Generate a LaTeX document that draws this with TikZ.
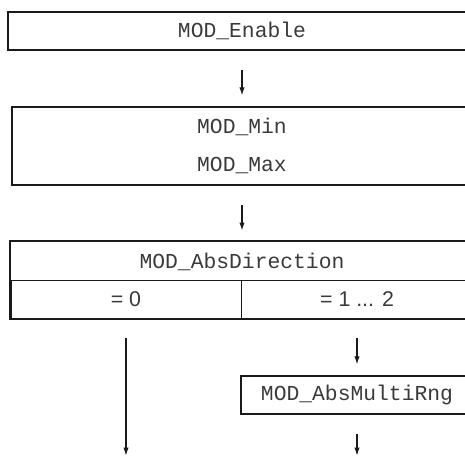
\documentclass[tikz,border=0pt]{standalone}
\usepackage{fontspec}
\setmainfont{Liberation Sans}
\setmonofont{Liberation Mono}
\usepackage{tikz}
\usetikzlibrary{arrows.meta,calc,positioning}
\definecolor{DiagLine}{HTML}{1A1A1A}
\definecolor{DiagText}{HTML}{3A3A3A}

\begin{document}
\begin{tikzpicture}[
    x=0.75pt,y=-0.75pt,
    parbox/.style={draw=DiagLine,line width=1.5pt,minimum height=28.5pt,inner sep=0pt,align=center,text=DiagText,font=\fontsize{16}{28}\selectfont\ttfamily},
    cellbox/.style={draw=DiagLine,line width=0.75pt,minimum height=28pt,inner sep=0pt,align=center,text=DiagText,font=\fontsize{16}{18}\selectfont},
    flow/.style={draw=DiagLine,line width=0.8pt,-{Latex[length=6pt,width=4pt]},shorten <=14.5pt,shorten >=8pt}
  ]
    \path[use as bounding box] (0,0) rectangle (465,457);
    \clip (0,0) rectangle (465,457);
    % parameter boxes, right edge runs off the page
    \node[parbox,minimum width=351pt] (enable) at (242,31) {MOD\_Enable};
    \node[parbox,minimum width=345pt,minimum height=58.5pt] (limits) at (242,146) {MOD\_Min\\MOD\_Max};
    % selection table
    \node[parbox,draw=none,minimum width=346.5pt,minimum height=29pt] (direction) at (242,261.5) {MOD\_AbsDirection};
    \node[cellbox,minimum width=172.5pt] (zero) at (126,299.5) {= 0};
    \node[cellbox,minimum width=174pt] (range) at (357,299.5) {= 1 ... 2};
    \draw[DiagLine,line width=1.5pt] (direction.north west) rectangle (range.south east);
    \node[parbox,minimum width=174pt] (multirng) at (357,395) {MOD\_AbsMultiRng};
    \coordinate (leftend) at (126,457);
    \coordinate (rightend) at (357,457);
    \draw[flow] (enable) -- (limits);
    \draw[flow] (limits) -- (direction);
    \draw[flow] (range) -- (multirng);
    \draw[flow,shorten >=1pt] (zero) -- (leftend);
    \draw[flow,shorten >=1pt] (multirng) -- (rightend);
  \end{tikzpicture}
\end{document}
